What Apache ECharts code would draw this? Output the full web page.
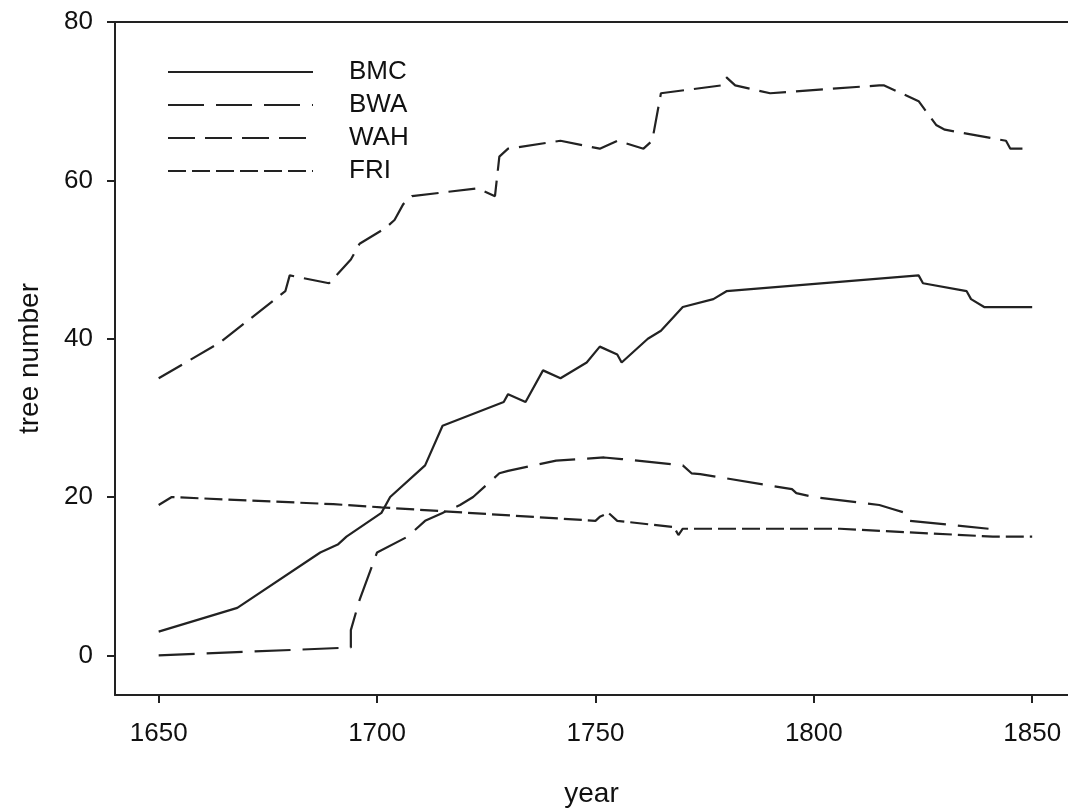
<!DOCTYPE html>
<html>
<head>
<meta charset="utf-8">
<script src="https://cdn.jsdelivr.net/npm/echarts@6/dist/echarts.min.js"></script>
<style>
  html, body { margin: 0; padding: 0; background: #fff; }
  #chart { width: 1068px; height: 809px; }
</style>
</head>
<body>
<div id="chart"></div>
<script>
// tick values
const xTicks = [1650, 1700, 1750, 1800, 1850];
const yTicks = [0, 20, 40, 60, 80];

// series values: [year, tree number]
const bmc = [[1650,3],[1668,6],[1687,13],[1691,14],[1693,15],[1701,18],[1703,20],[1711,24],[1715,29],
  [1729,32],[1730,33],[1734,32],[1738,36],[1742,35],[1748,37],[1751,39],[1755,38],[1756,37],[1762,40],
  [1765,41],[1770,44],[1777,45],[1780,46],[1824,48],[1825,47],[1835,46],[1836,45],[1839,44],[1850,44]];
const bwa = [[1650,0],[1694,1],[1694,3.2],[1696,7],[1700,13],[1707,15],[1708,15.5],[1711,17],[1715,18],
  [1719,19],[1722,20],[1728,23],[1730,23.3],[1741,24.6],[1752,25],[1756,24.8],[1770,24],[1772,23],
  [1774,22.9],[1795,21],[1796,20.5],[1800,20],[1815,19],[1818,18.5],[1821,18],[1822,17],[1840,16]];
const wah = [[1650,35],[1664,39.5],[1679,46],[1680,48],[1689,47],[1694,50],[1696,52],[1702,54],[1704,55],
  [1706,57],[1708,58],[1723,59],[1727,58],[1728,63],[1730,64],[1742,65],[1751,64],[1755,65],[1761,64],
  [1763,65],[1765,71],[1779,72],[1780,73],[1782,72],[1790,71],[1815,72],[1816,72],[1824,70],[1828,67],
  [1830,66.4],[1844,65],[1845,64],[1850,64]];
const fri = [[1650,19],[1653,20],[1690,19.1],[1701,18.7],[1750,17],[1751,17.5],[1753,18],[1755,17],
  [1768,16.2],[1769,15.2],[1770,16],[1806,16],[1841,15],[1850,15]];

const ink = '#222';
const font = 'Liberation Sans, Arial, sans-serif';

function makeSeries(name, data, dash) {
  return {
    name: name,
    type: 'line',
    data: data,
    symbol: 'none',
    lineStyle: { color: ink, width: 2.2, type: dash },
    itemStyle: { color: ink }
  };
}

const chart = echarts.init(document.getElementById('chart'));
const option = {
  animation: false,
  backgroundColor: '#fff',
  grid: { left: 115, right: 0, top: 22, bottom: 114, outerBoundsMode: 'none', containLabel: false },
  legend: {
    orient: 'vertical',
    left: 162,
    top: 54,
    itemWidth: 145,
    itemHeight: 14,
    itemGap: 7,
    itemStyle: { opacity: 0 },
    data: ['BMC', 'BWA', 'WAH', 'FRI'],
    textStyle: { fontSize: 26, lineHeight: 26, color: '#111', fontFamily: font, padding: [0, 0, 0, 31] }
  },
  xAxis: [{
    type: 'value',
    min: 1640,
    max: 1858.2,
    name: 'year',
    nameLocation: 'middle',
    nameGap: 85,
    nameTextStyle: { fontSize: 28, color: '#111', fontFamily: font },
    splitLine: { show: false },
    axisLine: { show: true, onZero: false, lineStyle: { color: ink, width: 2 } },
    axisTick: { show: true, length: 8, lineStyle: { color: ink, width: 2 }, customValues: xTicks },
    axisLabel: { fontSize: 26, color: '#111', fontFamily: font, margin: 26, customValues: xTicks,
      formatter: v => String(v) }
  }, {
    type: 'value',
    position: 'top',
    min: 1640,
    max: 1858.2,
    splitLine: { show: false },
    axisLine: { show: true, onZero: false, lineStyle: { color: ink, width: 2 } },
    axisTick: { show: false },
    axisLabel: { show: false }
  }],
  yAxis: {
    type: 'value',
    min: -5,
    max: 80,
    name: 'tree number',
    nameLocation: 'middle',
    nameGap: 71,
    nameTextStyle: { fontSize: 28, color: '#111', fontFamily: font },
    splitLine: { show: false },
    axisLine: { show: true, onZero: false, lineStyle: { color: ink, width: 2 } },
    axisTick: { show: true, length: 8, lineStyle: { color: ink, width: 2 }, customValues: yTicks },
    axisLabel: { fontSize: 26, color: '#111', fontFamily: font, margin: 22, customValues: yTicks,
      formatter: v => String(v) }
  },
  series: [
    makeSeries('BMC', bmc, 'solid'),
    makeSeries('BWA', bwa, [36, 12]),
    makeSeries('WAH', wah, [27, 10]),
    makeSeries('FRI', fri, [18, 6])
  ]
};
chart.setOption(option);
</script>
</body>
</html>
